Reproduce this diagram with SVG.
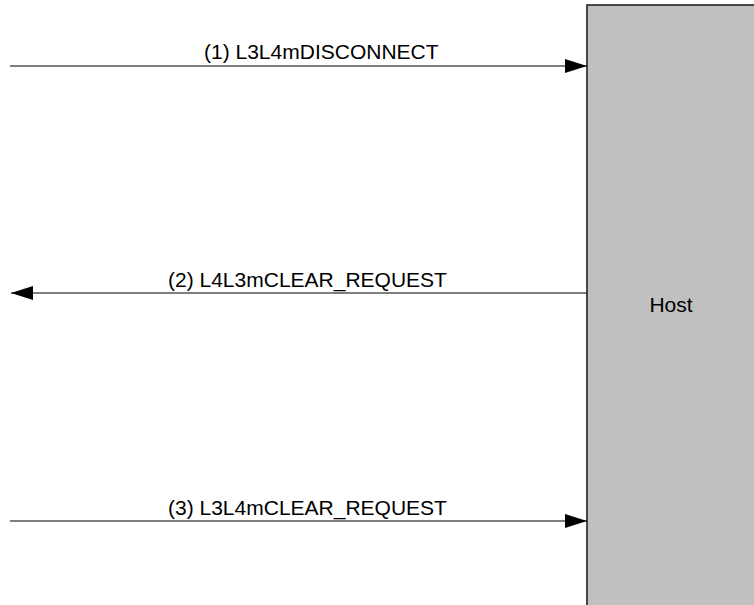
<svg xmlns="http://www.w3.org/2000/svg" width="754" height="605" viewBox="0 0 754 605">
<style>
.lbl{font-family:"Liberation Sans",Arial,sans-serif;font-size:21px;fill:#000}
.conn{stroke:#000;stroke-width:1.2;fill:none}
</style>
<defs>
<marker id="ah" markerUnits="userSpaceOnUse" markerWidth="24" markerHeight="16" refX="22" refY="7" orient="auto">
<path d="M0,0 L22,7 L0,14 Z" fill="#000"/>
</marker>
</defs>
<rect width="754" height="605" fill="#fff"/>
<g id="host">
<rect x="587" y="5" width="200" height="640" fill="#C0C0C0" stroke="#222" stroke-width="1.6"/>
<text class="lbl" x="671" y="312" text-anchor="middle">Host</text>
</g>
<g id="connectors">
<line class="conn" x1="10" y1="66" x2="587" y2="66" marker-end="url(#ah)"/>
<text class="lbl" x="204" y="59">(1) L3L4mDISCONNECT</text>
<line class="conn" x1="587" y1="293" x2="11" y2="293" marker-end="url(#ah)"/>
<text class="lbl" x="168" y="287">(2) L4L3mCLEAR_REQUEST</text>
<line class="conn" x1="10" y1="521" x2="587" y2="521" marker-end="url(#ah)"/>
<text class="lbl" x="168" y="515">(3) L3L4mCLEAR_REQUEST</text>
</g>
</svg>
